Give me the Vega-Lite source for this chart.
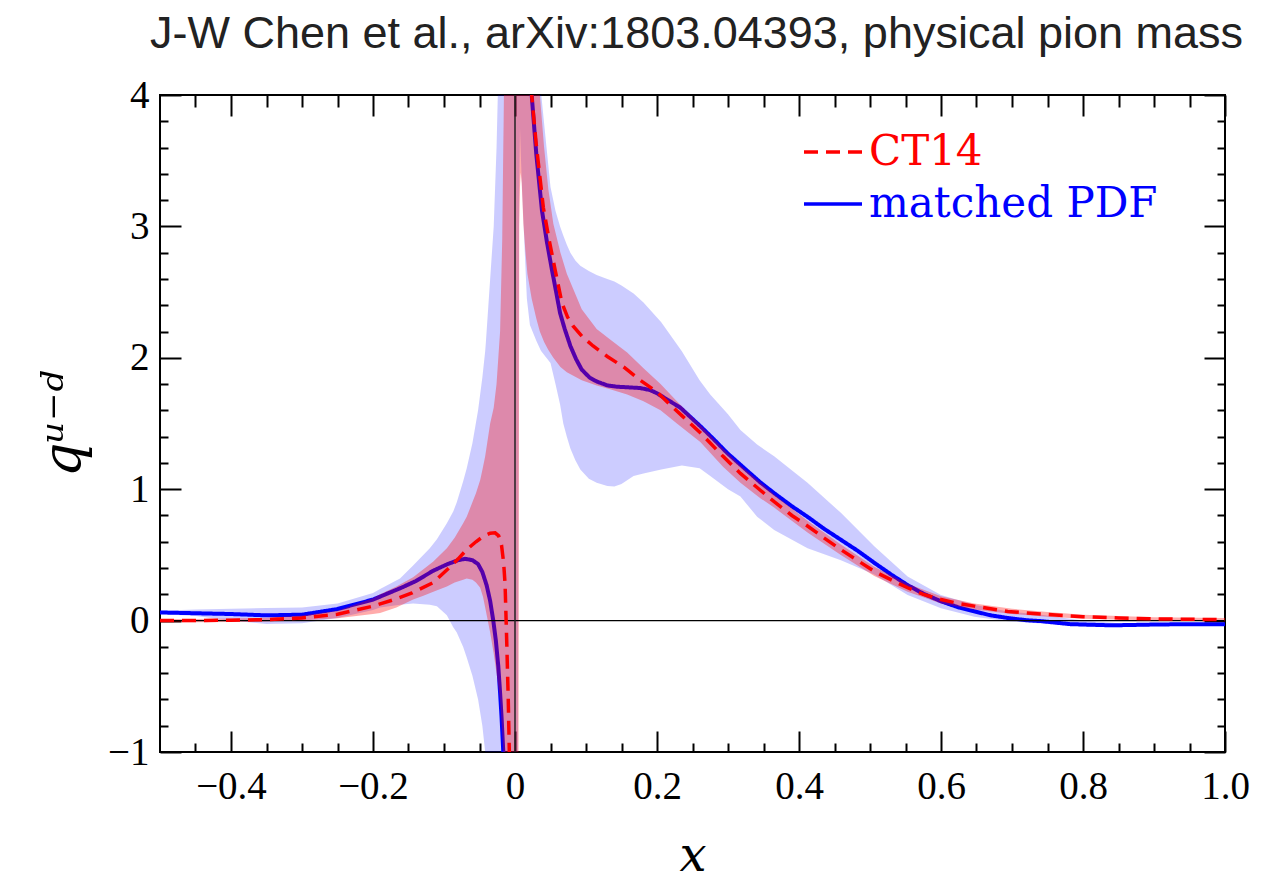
{
  "$schema": "https://vega.github.io/schema/vega-lite/v6.json",
  "width": 1065,
  "height": 657,
  "autosize": {"type": "none"},
  "padding": {"left": 160, "top": 95, "right": 57, "bottom": 134},
  "background": "white",
  "title": {
    "text": "J-W Chen et al., arXiv:1803.04393, physical pion mass",
    "font": "Liberation Sans",
    "fontSize": 45,
    "fontWeight": "normal",
    "color": "#222222",
    "anchor": "middle",
    "baseline": "alphabetic",
    "offset": -17,
    "dx": 4
  },
  "datasets": {
    "pdfband": [
      {"x": -0.5, "lo": 0.05, "hi": 0.075, "seg": "neg"},
      {"x": -0.45, "lo": 0.035, "hi": 0.085, "seg": "neg"},
      {"x": -0.4, "lo": 0.0, "hi": 0.09, "seg": "neg"},
      {"x": -0.35, "lo": -0.025, "hi": 0.095, "seg": "neg"},
      {"x": -0.3, "lo": -0.02, "hi": 0.1, "seg": "neg"},
      {"x": -0.25, "lo": 0.02, "hi": 0.13, "seg": "neg"},
      {"x": -0.2, "lo": 0.08, "hi": 0.21, "seg": "neg"},
      {"x": -0.19, "lo": 0.1, "hi": 0.24, "seg": "neg"},
      {"x": -0.162, "lo": 0.12, "hi": 0.32, "seg": "neg"},
      {"x": -0.1435, "lo": 0.13, "hi": 0.42, "seg": "neg"},
      {"x": -0.12, "lo": 0.12, "hi": 0.55, "seg": "neg"},
      {"x": -0.11, "lo": 0.11, "hi": 0.62, "seg": "neg"},
      {"x": -0.096, "lo": 0.04, "hi": 0.74, "seg": "neg"},
      {"x": -0.087, "lo": -0.05, "hi": 0.83, "seg": "neg"},
      {"x": -0.082, "lo": -0.09, "hi": 0.9, "seg": "neg"},
      {"x": -0.073, "lo": -0.2, "hi": 1.06, "seg": "neg"},
      {"x": -0.068, "lo": -0.28, "hi": 1.16, "seg": "neg"},
      {"x": -0.06, "lo": -0.42, "hi": 1.35, "seg": "neg"},
      {"x": -0.052, "lo": -0.6, "hi": 1.6, "seg": "neg"},
      {"x": -0.046, "lo": -0.8, "hi": 1.85, "seg": "neg"},
      {"x": -0.042, "lo": -1.0, "hi": 2.05, "seg": "neg"},
      {"x": -0.041, "lo": -1.05, "hi": 2.12, "seg": "neg"},
      {"x": -0.035, "lo": -1.05, "hi": 2.6, "seg": "neg"},
      {"x": -0.03, "lo": -1.05, "hi": 3.0, "seg": "neg"},
      {"x": -0.026, "lo": -1.05, "hi": 3.6, "seg": "neg"},
      {"x": -0.024, "lo": -1.05, "hi": 4.05, "seg": "neg"},
      {"x": 0.0, "lo": -1.05, "hi": 4.05, "seg": "neg"},
      {"x": 0.0, "lo": -1.05, "hi": 4.05, "seg": "pos"},
      {"x": 0.004, "lo": -1.05, "hi": 4.05, "seg": "pos"},
      {"x": 0.0058, "lo": 3.2, "hi": 4.05, "seg": "pos"},
      {"x": 0.007, "lo": 3.75, "hi": 4.05, "seg": "pos"},
      {"x": 0.0085, "lo": 3.5, "hi": 4.05, "seg": "pos"},
      {"x": 0.01, "lo": 3.28, "hi": 4.05, "seg": "pos"},
      {"x": 0.0133, "lo": 2.86, "hi": 4.05, "seg": "pos"},
      {"x": 0.0167, "lo": 2.45, "hi": 4.05, "seg": "pos"},
      {"x": 0.021, "lo": 2.25, "hi": 4.05, "seg": "pos"},
      {"x": 0.03, "lo": 2.13, "hi": 4.05, "seg": "pos"},
      {"x": 0.036, "lo": 2.06, "hi": 4.05, "seg": "pos"},
      {"x": 0.037, "lo": 2.05, "hi": 4.0, "seg": "pos"},
      {"x": 0.05, "lo": 1.96, "hi": 3.3, "seg": "pos"},
      {"x": 0.057, "lo": 1.8, "hi": 3.12, "seg": "pos"},
      {"x": 0.0635, "lo": 1.645, "hi": 3.0, "seg": "pos"},
      {"x": 0.068, "lo": 1.5, "hi": 2.93, "seg": "pos"},
      {"x": 0.073, "lo": 1.4, "hi": 2.86, "seg": "pos"},
      {"x": 0.078, "lo": 1.31, "hi": 2.8, "seg": "pos"},
      {"x": 0.085, "lo": 1.22, "hi": 2.74, "seg": "pos"},
      {"x": 0.092, "lo": 1.15, "hi": 2.7, "seg": "pos"},
      {"x": 0.104, "lo": 1.08, "hi": 2.66, "seg": "pos"},
      {"x": 0.115, "lo": 1.05, "hi": 2.63, "seg": "pos"},
      {"x": 0.13, "lo": 1.025, "hi": 2.6, "seg": "pos"},
      {"x": 0.14, "lo": 1.02, "hi": 2.58, "seg": "pos"},
      {"x": 0.15, "lo": 1.04, "hi": 2.55, "seg": "pos"},
      {"x": 0.167, "lo": 1.1, "hi": 2.49, "seg": "pos"},
      {"x": 0.181, "lo": 1.12, "hi": 2.42, "seg": "pos"},
      {"x": 0.206, "lo": 1.15, "hi": 2.27, "seg": "pos"},
      {"x": 0.235, "lo": 1.18, "hi": 2.05, "seg": "pos"},
      {"x": 0.26, "lo": 1.16, "hi": 1.83, "seg": "pos"},
      {"x": 0.275, "lo": 1.1, "hi": 1.72, "seg": "pos"},
      {"x": 0.3, "lo": 1.0, "hi": 1.57, "seg": "pos"},
      {"x": 0.3175, "lo": 0.945, "hi": 1.45, "seg": "pos"},
      {"x": 0.341, "lo": 0.79, "hi": 1.34, "seg": "pos"},
      {"x": 0.365, "lo": 0.69, "hi": 1.25, "seg": "pos"},
      {"x": 0.412, "lo": 0.55, "hi": 1.05, "seg": "pos"},
      {"x": 0.459, "lo": 0.46, "hi": 0.82, "seg": "pos"},
      {"x": 0.506, "lo": 0.35, "hi": 0.565, "seg": "pos"},
      {"x": 0.553, "lo": 0.195, "hi": 0.335, "seg": "pos"},
      {"x": 0.6, "lo": 0.094, "hi": 0.195, "seg": "pos"},
      {"x": 0.647, "lo": 0.03, "hi": 0.12, "seg": "pos"},
      {"x": 0.694, "lo": -0.004, "hi": 0.07, "seg": "pos"},
      {"x": 0.741, "lo": -0.023, "hi": 0.045, "seg": "pos"},
      {"x": 0.8, "lo": -0.045, "hi": 0.0, "seg": "pos"},
      {"x": 0.85, "lo": -0.05, "hi": -0.02, "seg": "pos"},
      {"x": 0.9, "lo": -0.042, "hi": -0.018, "seg": "pos"},
      {"x": 1.0, "lo": -0.035, "hi": -0.018, "seg": "pos"}
    ],
    "ct14band": [
      {"x": -0.5, "lo": -0.012, "hi": 0.012, "seg": "neg"},
      {"x": -0.45, "lo": -0.012, "hi": 0.013, "seg": "neg"},
      {"x": -0.4, "lo": -0.01, "hi": 0.016, "seg": "neg"},
      {"x": -0.35, "lo": -0.007, "hi": 0.022, "seg": "neg"},
      {"x": -0.3, "lo": 0.0, "hi": 0.038, "seg": "neg"},
      {"x": -0.25, "lo": 0.018, "hi": 0.075, "seg": "neg"},
      {"x": -0.2, "lo": 0.05, "hi": 0.17, "seg": "neg"},
      {"x": -0.19, "lo": 0.058, "hi": 0.2, "seg": "neg"},
      {"x": -0.167, "lo": 0.1, "hi": 0.26, "seg": "neg"},
      {"x": -0.1435, "lo": 0.16, "hi": 0.33, "seg": "neg"},
      {"x": -0.129, "lo": 0.19, "hi": 0.39, "seg": "neg"},
      {"x": -0.115, "lo": 0.22, "hi": 0.45, "seg": "neg"},
      {"x": -0.096, "lo": 0.26, "hi": 0.55, "seg": "neg"},
      {"x": -0.085, "lo": 0.29, "hi": 0.63, "seg": "neg"},
      {"x": -0.073, "lo": 0.31, "hi": 0.74, "seg": "neg"},
      {"x": -0.068, "lo": 0.32, "hi": 0.79, "seg": "neg"},
      {"x": -0.06, "lo": 0.31, "hi": 0.9, "seg": "neg"},
      {"x": -0.055, "lo": 0.29, "hi": 0.97, "seg": "neg"},
      {"x": -0.049, "lo": 0.25, "hi": 1.07, "seg": "neg"},
      {"x": -0.045, "lo": 0.18, "hi": 1.17, "seg": "neg"},
      {"x": -0.042, "lo": 0.1, "hi": 1.25, "seg": "neg"},
      {"x": -0.035, "lo": -0.09, "hi": 1.5, "seg": "neg"},
      {"x": -0.03, "lo": -0.25, "hi": 1.62, "seg": "neg"},
      {"x": -0.026, "lo": -0.4, "hi": 1.8, "seg": "neg"},
      {"x": -0.021, "lo": -0.6, "hi": 2.2, "seg": "neg"},
      {"x": -0.018, "lo": -0.85, "hi": 2.9, "seg": "neg"},
      {"x": -0.0165, "lo": -1.0, "hi": 3.6, "seg": "neg"},
      {"x": -0.016, "lo": -1.05, "hi": 3.8, "seg": "neg"},
      {"x": -0.0155, "lo": -1.05, "hi": 4.05, "seg": "neg"},
      {"x": 0.0, "lo": -1.05, "hi": 4.05, "seg": "neg"},
      {"x": 0.0, "lo": -1.05, "hi": 4.05, "seg": "pos"},
      {"x": 0.005, "lo": -1.05, "hi": 4.05, "seg": "pos"},
      {"x": 0.006, "lo": 3.0, "hi": 4.05, "seg": "pos"},
      {"x": 0.007, "lo": 3.3, "hi": 4.05, "seg": "pos"},
      {"x": 0.008, "lo": 3.41, "hi": 4.05, "seg": "pos"},
      {"x": 0.0094, "lo": 3.33, "hi": 4.05, "seg": "pos"},
      {"x": 0.0118, "lo": 3.02, "hi": 4.05, "seg": "pos"},
      {"x": 0.0145, "lo": 2.82, "hi": 4.05, "seg": "pos"},
      {"x": 0.0175, "lo": 2.64, "hi": 4.05, "seg": "pos"},
      {"x": 0.0235, "lo": 2.45, "hi": 4.05, "seg": "pos"},
      {"x": 0.03, "lo": 2.3, "hi": 4.05, "seg": "pos"},
      {"x": 0.0345, "lo": 2.21, "hi": 4.05, "seg": "pos"},
      {"x": 0.035, "lo": 2.2, "hi": 4.0, "seg": "pos"},
      {"x": 0.041, "lo": 2.12, "hi": 3.6, "seg": "pos"},
      {"x": 0.047, "lo": 2.06, "hi": 3.28, "seg": "pos"},
      {"x": 0.054, "lo": 2.0, "hi": 3.02, "seg": "pos"},
      {"x": 0.064, "lo": 1.93, "hi": 2.8, "seg": "pos"},
      {"x": 0.073, "lo": 1.89, "hi": 2.64, "seg": "pos"},
      {"x": 0.094, "lo": 1.83, "hi": 2.37, "seg": "pos"},
      {"x": 0.115, "lo": 1.79, "hi": 2.22, "seg": "pos"},
      {"x": 0.134, "lo": 1.76, "hi": 2.14, "seg": "pos"},
      {"x": 0.158, "lo": 1.72, "hi": 2.04, "seg": "pos"},
      {"x": 0.181, "lo": 1.67, "hi": 1.92, "seg": "pos"},
      {"x": 0.205, "lo": 1.6, "hi": 1.8, "seg": "pos"},
      {"x": 0.228, "lo": 1.5, "hi": 1.67, "seg": "pos"},
      {"x": 0.261, "lo": 1.36, "hi": 1.49, "seg": "pos"},
      {"x": 0.293, "lo": 1.17, "hi": 1.31, "seg": "pos"},
      {"x": 0.3175, "lo": 1.05, "hi": 1.18, "seg": "pos"},
      {"x": 0.346, "lo": 0.93, "hi": 1.05, "seg": "pos"},
      {"x": 0.365, "lo": 0.86, "hi": 0.96, "seg": "pos"},
      {"x": 0.412, "lo": 0.67, "hi": 0.76, "seg": "pos"},
      {"x": 0.459, "lo": 0.5, "hi": 0.58, "seg": "pos"},
      {"x": 0.506, "lo": 0.34, "hi": 0.41, "seg": "pos"},
      {"x": 0.553, "lo": 0.22, "hi": 0.28, "seg": "pos"},
      {"x": 0.6, "lo": 0.13, "hi": 0.185, "seg": "pos"},
      {"x": 0.647, "lo": 0.085, "hi": 0.13, "seg": "pos"},
      {"x": 0.7, "lo": 0.05, "hi": 0.09, "seg": "pos"},
      {"x": 0.75, "lo": 0.03, "hi": 0.065, "seg": "pos"},
      {"x": 0.8, "lo": 0.015, "hi": 0.045, "seg": "pos"},
      {"x": 0.9, "lo": 0.0, "hi": 0.026, "seg": "pos"},
      {"x": 1.0, "lo": -0.005, "hi": 0.02, "seg": "pos"}
    ],
    "pdf": [
      {"x": -0.5, "y": 0.062, "seg": "neg", "series": "matched PDF"},
      {"x": -0.45, "y": 0.056, "seg": "neg", "series": "matched PDF"},
      {"x": -0.4, "y": 0.05, "seg": "neg", "series": "matched PDF"},
      {"x": -0.35, "y": 0.04, "seg": "neg", "series": "matched PDF"},
      {"x": -0.3, "y": 0.045, "seg": "neg", "series": "matched PDF"},
      {"x": -0.25, "y": 0.088, "seg": "neg", "series": "matched PDF"},
      {"x": -0.2, "y": 0.16, "seg": "neg", "series": "matched PDF"},
      {"x": -0.16, "y": 0.25, "seg": "neg", "series": "matched PDF"},
      {"x": -0.14, "y": 0.3, "seg": "neg", "series": "matched PDF"},
      {"x": -0.115, "y": 0.38, "seg": "neg", "series": "matched PDF"},
      {"x": -0.095, "y": 0.43, "seg": "neg", "series": "matched PDF"},
      {"x": -0.08, "y": 0.46, "seg": "neg", "series": "matched PDF"},
      {"x": -0.07, "y": 0.47, "seg": "neg", "series": "matched PDF"},
      {"x": -0.06, "y": 0.46, "seg": "neg", "series": "matched PDF"},
      {"x": -0.052, "y": 0.43, "seg": "neg", "series": "matched PDF"},
      {"x": -0.046, "y": 0.37, "seg": "neg", "series": "matched PDF"},
      {"x": -0.04, "y": 0.27, "seg": "neg", "series": "matched PDF"},
      {"x": -0.035, "y": 0.15, "seg": "neg", "series": "matched PDF"},
      {"x": -0.0306, "y": 0.0, "seg": "neg", "series": "matched PDF"},
      {"x": -0.027, "y": -0.15, "seg": "neg", "series": "matched PDF"},
      {"x": -0.0235, "y": -0.35, "seg": "neg", "series": "matched PDF"},
      {"x": -0.021, "y": -0.55, "seg": "neg", "series": "matched PDF"},
      {"x": -0.019, "y": -0.73, "seg": "neg", "series": "matched PDF"},
      {"x": -0.0165, "y": -1.0, "seg": "neg", "series": "matched PDF"},
      {"x": -0.0162, "y": -1.05, "seg": "neg", "series": "matched PDF"},
      {"x": 0.0228, "y": 4.05, "seg": "pos", "series": "matched PDF"},
      {"x": 0.0235, "y": 4.0, "seg": "pos", "series": "matched PDF"},
      {"x": 0.03, "y": 3.55, "seg": "pos", "series": "matched PDF"},
      {"x": 0.038, "y": 3.12, "seg": "pos", "series": "matched PDF"},
      {"x": 0.045, "y": 2.88, "seg": "pos", "series": "matched PDF"},
      {"x": 0.052, "y": 2.67, "seg": "pos", "series": "matched PDF"},
      {"x": 0.058, "y": 2.5, "seg": "pos", "series": "matched PDF"},
      {"x": 0.0635, "y": 2.34, "seg": "pos", "series": "matched PDF"},
      {"x": 0.07, "y": 2.22, "seg": "pos", "series": "matched PDF"},
      {"x": 0.078, "y": 2.09, "seg": "pos", "series": "matched PDF"},
      {"x": 0.086, "y": 1.99, "seg": "pos", "series": "matched PDF"},
      {"x": 0.094, "y": 1.91, "seg": "pos", "series": "matched PDF"},
      {"x": 0.105, "y": 1.85, "seg": "pos", "series": "matched PDF"},
      {"x": 0.115, "y": 1.82, "seg": "pos", "series": "matched PDF"},
      {"x": 0.13, "y": 1.79, "seg": "pos", "series": "matched PDF"},
      {"x": 0.1435, "y": 1.78, "seg": "pos", "series": "matched PDF"},
      {"x": 0.16, "y": 1.775, "seg": "pos", "series": "matched PDF"},
      {"x": 0.176, "y": 1.77, "seg": "pos", "series": "matched PDF"},
      {"x": 0.19, "y": 1.755, "seg": "pos", "series": "matched PDF"},
      {"x": 0.2, "y": 1.73, "seg": "pos", "series": "matched PDF"},
      {"x": 0.215, "y": 1.68, "seg": "pos", "series": "matched PDF"},
      {"x": 0.233, "y": 1.62, "seg": "pos", "series": "matched PDF"},
      {"x": 0.261, "y": 1.48, "seg": "pos", "series": "matched PDF"},
      {"x": 0.28, "y": 1.38, "seg": "pos", "series": "matched PDF"},
      {"x": 0.299, "y": 1.275, "seg": "pos", "series": "matched PDF"},
      {"x": 0.3175, "y": 1.186, "seg": "pos", "series": "matched PDF"},
      {"x": 0.346, "y": 1.05, "seg": "pos", "series": "matched PDF"},
      {"x": 0.365, "y": 0.97, "seg": "pos", "series": "matched PDF"},
      {"x": 0.39, "y": 0.87, "seg": "pos", "series": "matched PDF"},
      {"x": 0.412, "y": 0.79, "seg": "pos", "series": "matched PDF"},
      {"x": 0.435, "y": 0.7, "seg": "pos", "series": "matched PDF"},
      {"x": 0.459, "y": 0.615, "seg": "pos", "series": "matched PDF"},
      {"x": 0.483, "y": 0.53, "seg": "pos", "series": "matched PDF"},
      {"x": 0.506, "y": 0.44, "seg": "pos", "series": "matched PDF"},
      {"x": 0.53, "y": 0.35, "seg": "pos", "series": "matched PDF"},
      {"x": 0.553, "y": 0.27, "seg": "pos", "series": "matched PDF"},
      {"x": 0.575, "y": 0.205, "seg": "pos", "series": "matched PDF"},
      {"x": 0.6, "y": 0.147, "seg": "pos", "series": "matched PDF"},
      {"x": 0.625, "y": 0.1, "seg": "pos", "series": "matched PDF"},
      {"x": 0.647, "y": 0.07, "seg": "pos", "series": "matched PDF"},
      {"x": 0.67, "y": 0.04, "seg": "pos", "series": "matched PDF"},
      {"x": 0.694, "y": 0.02, "seg": "pos", "series": "matched PDF"},
      {"x": 0.72, "y": 0.003, "seg": "pos", "series": "matched PDF"},
      {"x": 0.741, "y": -0.004, "seg": "pos", "series": "matched PDF"},
      {"x": 0.782, "y": -0.027, "seg": "pos", "series": "matched PDF"},
      {"x": 0.84, "y": -0.036, "seg": "pos", "series": "matched PDF"},
      {"x": 0.9, "y": -0.03, "seg": "pos", "series": "matched PDF"},
      {"x": 0.95, "y": -0.027, "seg": "pos", "series": "matched PDF"},
      {"x": 1.0, "y": -0.027, "seg": "pos", "series": "matched PDF"}
    ],
    "ct14": [
      {"x": -0.5, "y": 0.0, "seg": "neg", "series": "CT14"},
      {"x": -0.45, "y": 0.001, "seg": "neg", "series": "CT14"},
      {"x": -0.4, "y": 0.003, "seg": "neg", "series": "CT14"},
      {"x": -0.35, "y": 0.008, "seg": "neg", "series": "CT14"},
      {"x": -0.3, "y": 0.02, "seg": "neg", "series": "CT14"},
      {"x": -0.25, "y": 0.048, "seg": "neg", "series": "CT14"},
      {"x": -0.2, "y": 0.11, "seg": "neg", "series": "CT14"},
      {"x": -0.17, "y": 0.16, "seg": "neg", "series": "CT14"},
      {"x": -0.145, "y": 0.21, "seg": "neg", "series": "CT14"},
      {"x": -0.115, "y": 0.29, "seg": "neg", "series": "CT14"},
      {"x": -0.095, "y": 0.39, "seg": "neg", "series": "CT14"},
      {"x": -0.08, "y": 0.47, "seg": "neg", "series": "CT14"},
      {"x": -0.068, "y": 0.54, "seg": "neg", "series": "CT14"},
      {"x": -0.055, "y": 0.6, "seg": "neg", "series": "CT14"},
      {"x": -0.045, "y": 0.64, "seg": "neg", "series": "CT14"},
      {"x": -0.035, "y": 0.665, "seg": "neg", "series": "CT14"},
      {"x": -0.028, "y": 0.668, "seg": "neg", "series": "CT14"},
      {"x": -0.023, "y": 0.645, "seg": "neg", "series": "CT14"},
      {"x": -0.019, "y": 0.575, "seg": "neg", "series": "CT14"},
      {"x": -0.016, "y": 0.44, "seg": "neg", "series": "CT14"},
      {"x": -0.014, "y": 0.28, "seg": "neg", "series": "CT14"},
      {"x": -0.0117, "y": -0.15, "seg": "neg", "series": "CT14"},
      {"x": -0.0095, "y": -0.6, "seg": "neg", "series": "CT14"},
      {"x": -0.008, "y": -1.0, "seg": "neg", "series": "CT14"},
      {"x": -0.0078, "y": -1.05, "seg": "neg", "series": "CT14"},
      {"x": 0.0228, "y": 4.05, "seg": "pos", "series": "CT14"},
      {"x": 0.0235, "y": 4.0, "seg": "pos", "series": "CT14"},
      {"x": 0.03, "y": 3.62, "seg": "pos", "series": "CT14"},
      {"x": 0.04, "y": 3.14, "seg": "pos", "series": "CT14"},
      {"x": 0.048, "y": 2.9, "seg": "pos", "series": "CT14"},
      {"x": 0.0565, "y": 2.67, "seg": "pos", "series": "CT14"},
      {"x": 0.066, "y": 2.42, "seg": "pos", "series": "CT14"},
      {"x": 0.074, "y": 2.31, "seg": "pos", "series": "CT14"},
      {"x": 0.082, "y": 2.24, "seg": "pos", "series": "CT14"},
      {"x": 0.095, "y": 2.16, "seg": "pos", "series": "CT14"},
      {"x": 0.11, "y": 2.09, "seg": "pos", "series": "CT14"},
      {"x": 0.13, "y": 2.01, "seg": "pos", "series": "CT14"},
      {"x": 0.153, "y": 1.93, "seg": "pos", "series": "CT14"},
      {"x": 0.176, "y": 1.83, "seg": "pos", "series": "CT14"},
      {"x": 0.2, "y": 1.74, "seg": "pos", "series": "CT14"},
      {"x": 0.219, "y": 1.64, "seg": "pos", "series": "CT14"},
      {"x": 0.235, "y": 1.56, "seg": "pos", "series": "CT14"},
      {"x": 0.261, "y": 1.43, "seg": "pos", "series": "CT14"},
      {"x": 0.293, "y": 1.25, "seg": "pos", "series": "CT14"},
      {"x": 0.3175, "y": 1.12, "seg": "pos", "series": "CT14"},
      {"x": 0.346, "y": 0.99, "seg": "pos", "series": "CT14"},
      {"x": 0.365, "y": 0.905, "seg": "pos", "series": "CT14"},
      {"x": 0.39, "y": 0.8, "seg": "pos", "series": "CT14"},
      {"x": 0.412, "y": 0.72, "seg": "pos", "series": "CT14"},
      {"x": 0.435, "y": 0.63, "seg": "pos", "series": "CT14"},
      {"x": 0.459, "y": 0.54, "seg": "pos", "series": "CT14"},
      {"x": 0.506, "y": 0.375, "seg": "pos", "series": "CT14"},
      {"x": 0.53, "y": 0.31, "seg": "pos", "series": "CT14"},
      {"x": 0.553, "y": 0.25, "seg": "pos", "series": "CT14"},
      {"x": 0.575, "y": 0.2, "seg": "pos", "series": "CT14"},
      {"x": 0.6, "y": 0.16, "seg": "pos", "series": "CT14"},
      {"x": 0.625, "y": 0.13, "seg": "pos", "series": "CT14"},
      {"x": 0.647, "y": 0.11, "seg": "pos", "series": "CT14"},
      {"x": 0.67, "y": 0.09, "seg": "pos", "series": "CT14"},
      {"x": 0.694, "y": 0.07, "seg": "pos", "series": "CT14"},
      {"x": 0.741, "y": 0.05, "seg": "pos", "series": "CT14"},
      {"x": 0.8, "y": 0.03, "seg": "pos", "series": "CT14"},
      {"x": 0.85, "y": 0.02, "seg": "pos", "series": "CT14"},
      {"x": 0.9, "y": 0.013, "seg": "pos", "series": "CT14"},
      {"x": 0.95, "y": 0.01, "seg": "pos", "series": "CT14"},
      {"x": 1.0, "y": 0.008, "seg": "pos", "series": "CT14"}
    ]
  },
  "layer": [
    {
      "data": {"name": "pdfband"},
      "mark": {"type": "area", "clip": true, "color": "#0000ff", "fillOpacity": 0.2},
      "encoding": {
        "x": {
          "field": "x", "type": "quantitative",
          "scale": {"domain": [-0.5, 1.0], "nice": false, "zero": false},
          "axis": {
            "orient": "bottom",
            "values": [-0.4, -0.2, 0, 0.2, 0.4, 0.6, 0.8, 1.0],
            "tickSize": -21,
            "labelPadding": 36,
            "labelExpr": "datum.value === 0 ? '0' : format(datum.value, '.1f')",
            "title": "x",
            "titleFont": "DejaVu Serif",
            "titleFontStyle": "italic",
            "titleFontWeight": "normal",
            "titleFontSize": 48,
            "titleBaseline": "alphabetic",
            "titlePadding": 64
          }
        },
        "y": {
          "field": "lo", "type": "quantitative",
          "scale": {"domain": [-1, 4], "nice": false, "zero": false},
          "axis": {
            "orient": "left",
            "values": [-1, 0, 1, 2, 3, 4],
            "format": "d",
            "tickSize": -21,
            "labelPadding": 32,
            "title": "qᵘ⁻ᵈ",
            "titleFont": "DejaVu Serif",
            "titleFontStyle": "italic",
            "titleFontWeight": "normal",
            "titleFontSize": 54,
            "titlePadding": 16
          }
        },
        "y2": {"field": "hi"},
        "detail": {"field": "seg"}
      }
    },
    {
      "data": {"name": "pdf"},
      "mark": {"type": "line", "clip": true, "strokeWidth": 4},
      "encoding": {
        "x": {
          "field": "x", "type": "quantitative",
          "scale": {"domain": [-0.5, 1.0], "nice": false, "zero": false},
          "axis": {
            "orient": "bottom",
            "values": [-0.45, -0.35, -0.3, -0.25, -0.15, -0.1, -0.05, 0.05, 0.1, 0.15, 0.25, 0.3, 0.35, 0.45, 0.5, 0.55, 0.65, 0.7, 0.75, 0.85, 0.9, 0.95],
            "tickSize": -9,
            "labels": false,
            "title": null
          }
        },
        "y": {
          "field": "y", "type": "quantitative",
          "scale": {"domain": [-1, 4], "nice": false, "zero": false},
          "axis": {
            "orient": "left",
            "values": [-0.8, -0.6, -0.4, -0.2, 0.2, 0.4, 0.6, 0.8, 1.2, 1.4, 1.6, 1.8, 2.2, 2.4, 2.6, 2.8, 3.2, 3.4, 3.6, 3.8],
            "tickSize": -8,
            "labels": false,
            "title": null
          }
        },
        "color": {
          "field": "series", "type": "nominal",
          "scale": {"domain": ["CT14", "matched PDF"], "range": ["#ff0000", "#0000ff"]},
          "legend": {
            "orient": "none", "legendX": 642, "legendY": 26, "title": null,
            "symbolType": "stroke", "symbolSize": 3364, "symbolStrokeWidth": 3.5,
            "labelFont": "DejaVu Serif", "labelFontSize": 42, "labelOffset": 5, "labelLimit": 500,
            "rowPadding": 0, "padding": 0,
            "encode": {"labels": {"update": {"fill": {"signal": "datum.label === 'CT14' ? '#ff0000' : '#0000ff'"}}}}
          }
        },
        "strokeDash": {
          "field": "series", "type": "nominal",
          "scale": {"domain": ["CT14", "matched PDF"], "range": [[14, 8], [1, 0]]},
          "legend": {
            "orient": "none", "legendX": 642, "legendY": 26, "title": null,
            "symbolType": "stroke", "symbolSize": 3364, "symbolStrokeWidth": 3.5,
            "labelFont": "DejaVu Serif", "labelFontSize": 42, "labelOffset": 5, "labelLimit": 500,
            "rowPadding": 0, "padding": 0,
            "encode": {"labels": {"update": {"fill": {"signal": "datum.label === 'CT14' ? '#ff0000' : '#0000ff'"}}}}
          }
        },
        "detail": {"field": "seg"}
      }
    },
    {
      "data": {"name": "ct14band"},
      "mark": {"type": "area", "clip": true, "color": "#ff0000", "fillOpacity": 0.33},
      "encoding": {
        "x": {
          "field": "x", "type": "quantitative",
          "scale": {"domain": [-0.5, 1.0], "nice": false, "zero": false},
          "axis": {
            "orient": "top",
            "values": [-0.4, -0.2, 0, 0.2, 0.4, 0.6, 0.8, 1.0],
            "tickSize": -21,
            "labels": false,
            "title": null
          }
        },
        "y": {
          "field": "lo", "type": "quantitative",
          "scale": {"domain": [-1, 4], "nice": false, "zero": false},
          "axis": {
            "orient": "right",
            "values": [-1, 0, 1, 2, 3, 4],
            "tickSize": -21,
            "labels": false,
            "title": null
          }
        },
        "y2": {"field": "hi"},
        "detail": {"field": "seg"}
      }
    },
    {
      "data": {"values": [{}]},
      "mark": {"type": "rule", "color": "black", "strokeWidth": 1.2},
      "encoding": {
        "y": {"datum": 0, "type": "quantitative", "scale": {"domain": [-1, 4], "nice": false, "zero": false}, "axis": null}
      }
    },
    {
      "data": {"values": [{}]},
      "mark": {"type": "rule", "color": "#222222", "strokeWidth": 1.5},
      "encoding": {
        "x": {"datum": 0, "type": "quantitative", "scale": {"domain": [-0.5, 1.0], "nice": false, "zero": false}, "axis": null}
      }
    },
    {
      "data": {"name": "ct14"},
      "mark": {"type": "line", "clip": true, "strokeWidth": 3.5},
      "encoding": {
        "x": {
          "field": "x", "type": "quantitative",
          "scale": {"domain": [-0.5, 1.0], "nice": false, "zero": false},
          "axis": {
            "orient": "top",
            "values": [-0.45, -0.35, -0.3, -0.25, -0.15, -0.1, -0.05, 0.05, 0.1, 0.15, 0.25, 0.3, 0.35, 0.45, 0.5, 0.55, 0.65, 0.7, 0.75, 0.85, 0.9, 0.95],
            "tickSize": -12,
            "labels": false,
            "title": null
          }
        },
        "y": {
          "field": "y", "type": "quantitative",
          "scale": {"domain": [-1, 4], "nice": false, "zero": false},
          "axis": {
            "orient": "right",
            "values": [-0.8, -0.6, -0.4, -0.2, 0.2, 0.4, 0.6, 0.8, 1.2, 1.4, 1.6, 1.8, 2.2, 2.4, 2.6, 2.8, 3.2, 3.4, 3.6, 3.8],
            "tickSize": -8,
            "labels": false,
            "title": null
          }
        },
        "color": {
          "field": "series", "type": "nominal",
          "scale": {"domain": ["CT14", "matched PDF"], "range": ["#ff0000", "#0000ff"]},
          "legend": {
            "orient": "none", "legendX": 642, "legendY": 26, "title": null,
            "symbolType": "stroke", "symbolSize": 3364, "symbolStrokeWidth": 3.5,
            "labelFont": "DejaVu Serif", "labelFontSize": 42, "labelOffset": 5, "labelLimit": 500,
            "rowPadding": 0, "padding": 0,
            "encode": {"labels": {"update": {"fill": {"signal": "datum.label === 'CT14' ? '#ff0000' : '#0000ff'"}}}}
          }
        },
        "strokeDash": {
          "field": "series", "type": "nominal",
          "scale": {"domain": ["CT14", "matched PDF"], "range": [[14, 8], [1, 0]]},
          "legend": {
            "orient": "none", "legendX": 642, "legendY": 26, "title": null,
            "symbolType": "stroke", "symbolSize": 3364, "symbolStrokeWidth": 3.5,
            "labelFont": "DejaVu Serif", "labelFontSize": 42, "labelOffset": 5, "labelLimit": 500,
            "rowPadding": 0, "padding": 0,
            "encode": {"labels": {"update": {"fill": {"signal": "datum.label === 'CT14' ? '#ff0000' : '#0000ff'"}}}}
          }
        },
        "detail": {"field": "seg"}
      }
    }
  ],
  "resolve": {"axis": {"x": "independent", "y": "independent"}},
  "config": {
    "view": {"stroke": "black", "strokeWidth": 2},
    "axis": {
      "domain": false,
      "grid": false,
      "tickColor": "black",
      "tickWidth": 2,
      "labelFont": "Liberation Serif",
      "labelFontSize": 39,
      "labelColor": "black",
      "labelFlush": false,
      "labelOverlap": false,
      "labelBound": false,
      "titleColor": "black"
    }
  }
}
